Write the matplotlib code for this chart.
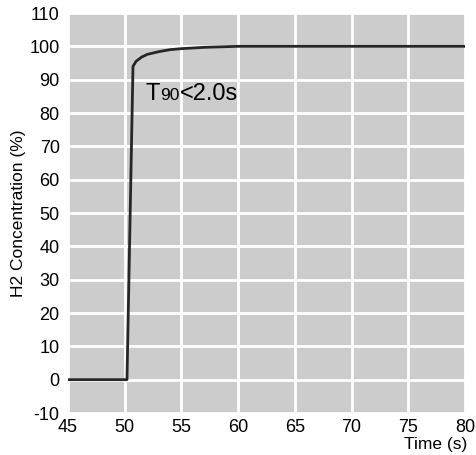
import matplotlib
matplotlib.use("Agg")
import matplotlib.pyplot as plt
from matplotlib.transforms import offset_copy

time_s = [45, 50.2, 50.73, 51.0, 51.5, 52.0, 53.0, 54.0, 55.0, 56.0, 57.0, 58.0, 60.0, 65.0, 70.0, 75.0, 80.0]
h2_pct = [0, 0, 94.0, 95.5, 96.8, 97.6, 98.4, 99.0, 99.3, 99.5, 99.7, 99.8, 100.0, 100.0, 100.0, 100.0, 100.0]
x_ticks = [45, 50, 55, 60, 65, 70, 75, 80]
y_ticks = [-10, 0, 10, 20, 30, 40, 50, 60, 70, 80, 90, 100, 110]

plt.rcParams['font.family'] = ['Liberation Sans', 'DejaVu Sans']
plt.rcParams['axes.unicode_minus'] = False

fig = plt.figure(figsize=(4.76, 4.55), dpi=100)
ax = fig.add_axes([68/476, 42/455, 397/476, 400/455])
ax.set_facecolor('#cccccc')
ax.plot(time_s, h2_pct, color='#262626', lw=2.0, zorder=3)
ax.set_xlim(45, 80)
ax.set_ylim(-10, 110)
ax.set_xticks(x_ticks)
ax.set_yticks(y_ticks)
ax.grid(True, color='white', lw=2.0, zorder=1)
ax.set_axisbelow(True)
for s in ax.spines.values():
    s.set_visible(False)
ax.tick_params(axis='x', length=0, labelsize=13, pad=4.5)
ax.tick_params(axis='y', length=0, labelsize=13, pad=6)
ax.set_ylabel('H2 Concentration (%)', fontsize=12.5, labelpad=2.5)
fig.text(467/476, 1 - 444/455, 'Time (s)', fontsize=12.5, ha='right', va='center')

# annotation "T90<2.0s" with smaller 90, baseline-aligned
fig.canvas.draw()
renderer = fig.canvas.get_renderer()
x0, y0 = 51.85, 83.8
t1 = ax.text(x0, y0, 'T', fontsize=17, va='baseline', ha='left', zorder=4)
w1 = t1.get_window_extent(renderer).width
t2 = ax.text(x0, y0, '90', fontsize=12.5, va='baseline', ha='left', zorder=4,
             transform=offset_copy(ax.transData, fig=fig, x=w1 * 72 / fig.dpi, y=0, units='points'))
w2 = t2.get_window_extent(renderer).width
t3 = ax.text(x0, y0, '<2.0s', fontsize=17, va='baseline', ha='left', zorder=4,
             transform=offset_copy(ax.transData, fig=fig, x=(w1 + w2) * 72 / fig.dpi, y=0, units='points'))

fig.savefig('out.png', dpi=100)
